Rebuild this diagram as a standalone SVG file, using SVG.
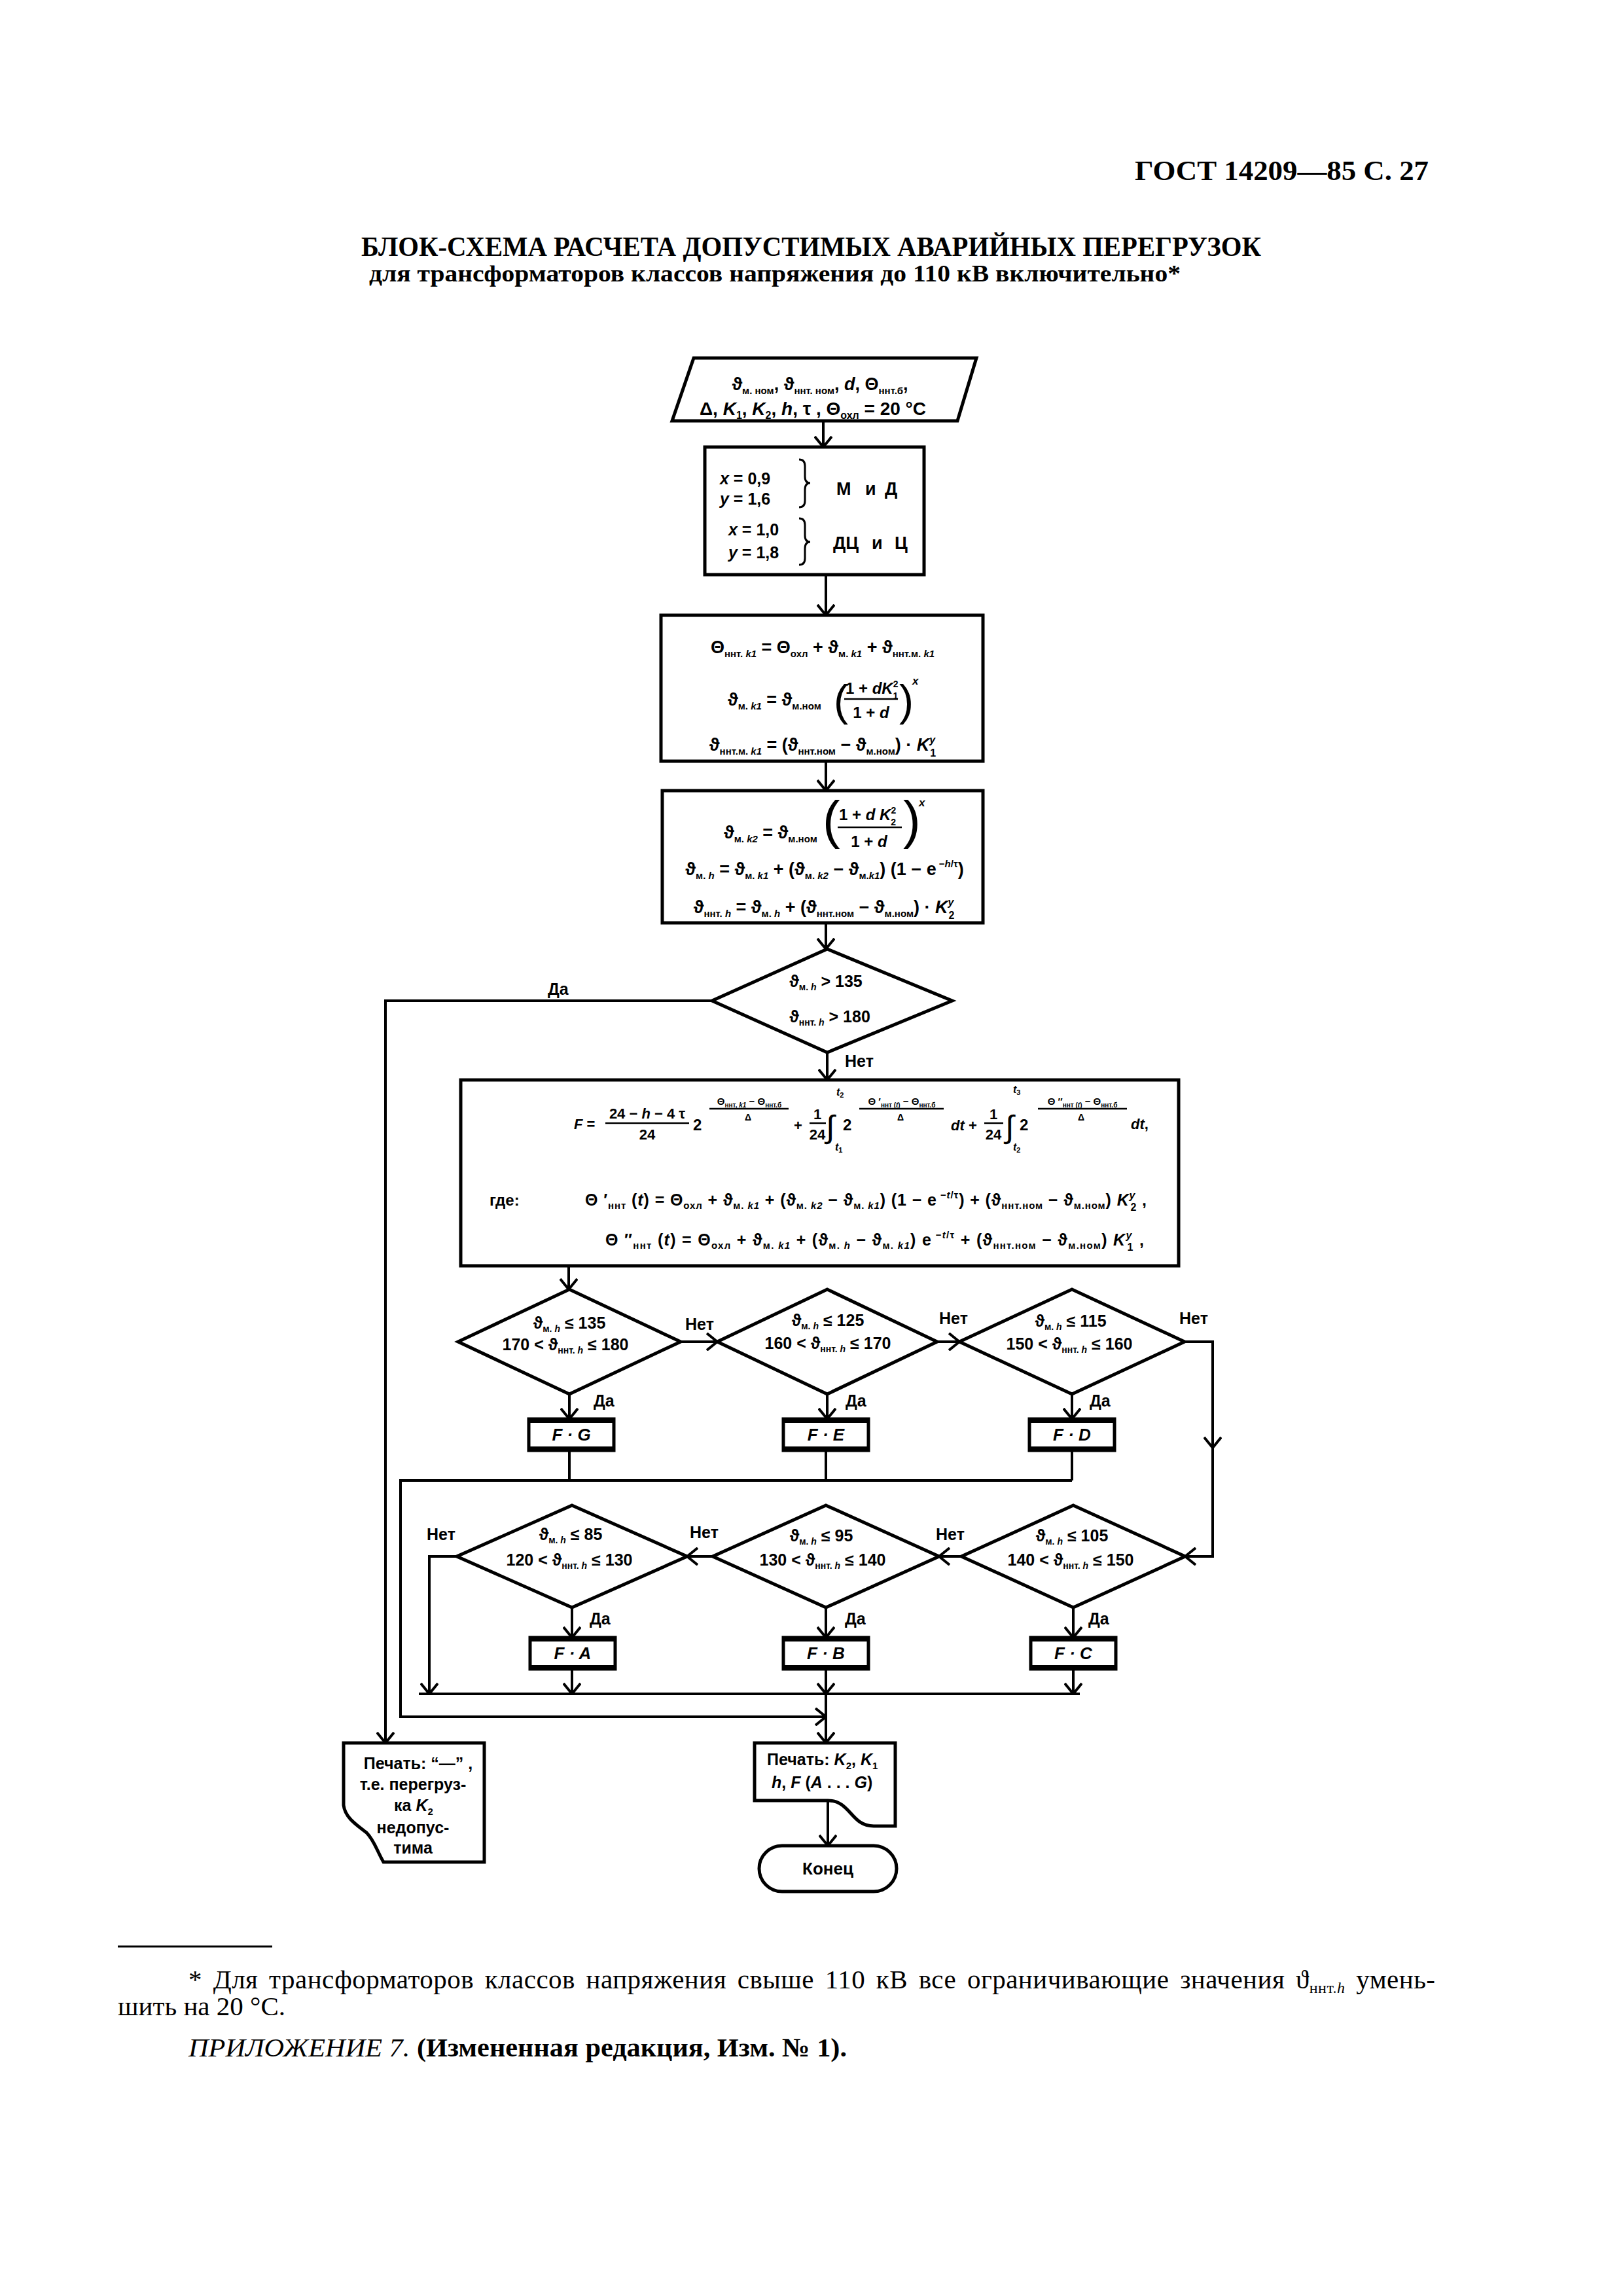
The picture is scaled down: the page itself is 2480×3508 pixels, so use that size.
<svg xmlns="http://www.w3.org/2000/svg" width="2480" height="3508" viewBox="0 0 2480 3508">
<style>
.t{font-family:"Liberation Sans","DejaVu Sans",Arial,sans-serif;font-weight:bold;fill:#000}
.n{font-weight:normal}
.i{font-style:italic}
.sr{font-family:"Liberation Serif","DejaVu Serif","Times New Roman",serif;fill:#000}
.ln{fill:none;stroke:#000;stroke-width:4}
.sh{fill:none;stroke:#000;stroke-width:5}
.fl{stroke:#000;stroke-width:2.5}
.tk{stroke:#000;stroke-width:8}
.br{fill:none;stroke:#000;stroke-width:3}
</style>
<defs>
<marker id="a" viewBox="0 0 18 28" refX="17" refY="14" markerWidth="18" markerHeight="28" markerUnits="userSpaceOnUse" orient="auto">
<path d="M1,1 L17,14 L1,27" fill="none" stroke="#000" stroke-width="4"/>
</marker>
</defs>
<rect width="2480" height="3508" fill="#fff"/>

<g id="header">
<text class="sr" x="1734" y="275" font-size="42" font-weight="bold" textLength="449" lengthAdjust="spacingAndGlyphs">ГОСТ 14209—85 С. 27</text>
<text class="sr" x="552" y="391" font-size="42" font-weight="bold" textLength="1375" lengthAdjust="spacingAndGlyphs">БЛОК-СХЕМА РАСЧЕТА ДОПУСТИМЫХ АВАРИЙНЫХ ПЕРЕГРУЗОК</text>
<text class="sr" x="564" y="430" font-size="36" font-weight="bold" textLength="1240" lengthAdjust="spacingAndGlyphs">для трансформаторов классов напряжения до 110 кВ включительно*</text>
</g>

<g id="connectors">
<path class="ln" d="M1258,643 V683" marker-end="url(#a)"/>
<path class="ln" d="M1262,878 V940" marker-end="url(#a)"/>
<path class="ln" d="M1262,1163 V1208" marker-end="url(#a)"/>
<path class="ln" d="M1262,1410 V1450" marker-end="url(#a)"/>
<path class="ln" d="M1088,1529 H589 V2663" marker-end="url(#a)"/>
<path class="ln" d="M1264,1608 V1650" marker-end="url(#a)"/>
<path class="ln" d="M869,1934 V1970" marker-end="url(#a)"/>
<path class="ln" d="M1040,2050 H1096" marker-end="url(#a)"/>
<path class="ln" d="M1432,2050 H1466" marker-end="url(#a)"/>
<path class="ln" d="M1810,2050 H1853 V2212" marker-end="url(#a)"/>
<path class="ln" d="M1853,2208 V2378 H1811" marker-end="url(#a)"/>
<path class="ln" d="M870,2130 V2168" marker-end="url(#a)"/>
<path class="ln" d="M1264,2130 V2168" marker-end="url(#a)"/>
<path class="ln" d="M1638,2130 V2168" marker-end="url(#a)"/>
<path class="ln" d="M870,2216 V2262"/>
<path class="ln" d="M1262,2216 V2262"/>
<path class="ln" d="M1638,2216 V2262"/>
<path class="ln" d="M1638,2262 H612 V2623 H1262" marker-end="url(#a)"/>
<path class="ln" d="M1469,2378 H1435" marker-end="url(#a)"/>
<path class="ln" d="M1089,2378 H1050" marker-end="url(#a)"/>
<path class="ln" d="M698,2378 H656 V2588" marker-end="url(#a)"/>
<path class="ln" d="M874,2456 V2502" marker-end="url(#a)"/>
<path class="ln" d="M1262,2456 V2502" marker-end="url(#a)"/>
<path class="ln" d="M1640,2456 V2502" marker-end="url(#a)"/>
<path class="ln" d="M874,2550 V2588" marker-end="url(#a)"/>
<path class="ln" d="M1262,2550 V2588" marker-end="url(#a)"/>
<path class="ln" d="M1640,2550 V2588" marker-end="url(#a)"/>
<path class="ln" d="M640,2588 H1650"/>
<path class="ln" d="M1262,2588 V2663" marker-end="url(#a)"/>
<path class="ln" d="M1265,2751 V2820" marker-end="url(#a)"/>
<g class="t" font-size="25">
<text x="837" y="1520">Да</text>
<text x="1291" y="1630">Нет</text>
<text x="1047" y="2032">Нет</text>
<text x="1435" y="2023">Нет</text>
<text x="1802" y="2023">Нет</text>
<text x="907" y="2149">Да</text>
<text x="1292" y="2149">Да</text>
<text x="1665" y="2149">Да</text>
<text x="1430" y="2353">Нет</text>
<text x="1054" y="2350">Нет</text>
<text x="652" y="2353">Нет</text>
<text x="901" y="2482">Да</text>
<text x="1291" y="2482">Да</text>
<text x="1663" y="2482">Да</text>
</g>
</g>

<g id="input">
<polygon class="sh" points="1060,547 1492,547 1463,643 1027,643"/>
<text class="t" x="1253" y="596" text-anchor="middle" font-size="27">ϑ<tspan font-size="15" dy="6">м. ном</tspan><tspan dy="-6">, ϑ</tspan><tspan font-size="15" dy="6">ннт. ном</tspan><tspan dy="-6">, </tspan><tspan class="i">d</tspan><tspan>, Θ</tspan><tspan font-size="15" dy="6">ннт.б</tspan><tspan dy="-6">,</tspan></text>
<text class="t" x="1242" y="634" text-anchor="middle" font-size="28">Δ, <tspan class="i">K</tspan><tspan font-size="16" dy="6">1</tspan><tspan dy="-6">, </tspan><tspan class="i">K</tspan><tspan font-size="16" dy="6">2</tspan><tspan dy="-6">, </tspan><tspan class="i">h</tspan><tspan>, τ ,  Θ</tspan><tspan font-size="16" dy="6">охл</tspan><tspan dy="-6"> = 20 °C</tspan></text>
</g>

<g id="coef">
<rect class="sh" x="1077" y="683" width="335" height="195"/>
<text class="t" x="1100" y="740" font-size="25"><tspan class="i">x</tspan> = 0,9</text>
<text class="t" x="1100" y="771" font-size="25"><tspan class="i">y</tspan> = 1,6</text>
<path class="br" d="M1221,702 Q1230,702 1230,712 V728 Q1230,738 1238,738 Q1230,738 1230,748 V765 Q1230,775 1221,775"/>
<text class="t" y="756" font-size="27"><tspan x="1278">М</tspan><tspan x="1322">и</tspan><tspan x="1352">Д</tspan></text>
<text class="t" x="1113" y="818" font-size="25"><tspan class="i">x</tspan> = 1,0</text>
<text class="t" x="1113" y="853" font-size="25"><tspan class="i">y</tspan> = 1,8</text>
<path class="br" d="M1221,792 Q1230,792 1230,802 V818 Q1230,828 1238,828 Q1230,828 1230,838 V853 Q1230,863 1221,863"/>
<text class="t" y="839" font-size="27"><tspan x="1273">ДЦ</tspan><tspan x="1332">и</tspan><tspan x="1367">Ц</tspan></text>
</g>

<g id="calc1">
<rect class="sh" x="1010" y="940" width="492" height="223"/>
<text class="t" x="1257" y="998" text-anchor="middle" font-size="27">Θ<tspan font-size="15" dy="6">ннт. <tspan class="i">k1</tspan></tspan><tspan dy="-6"> = Θ</tspan><tspan font-size="15" dy="6">охл</tspan><tspan dy="-6"> + ϑ</tspan><tspan font-size="15" dy="6">м. <tspan class="i">k1</tspan></tspan><tspan dy="-6"> + ϑ</tspan><tspan font-size="15" dy="6">ннт.м. <tspan class="i">k1</tspan></tspan></text>
<text class="t" x="1112" y="1078" font-size="27">ϑ<tspan font-size="15" dy="6">м. <tspan class="i">k1</tspan></tspan><tspan dy="-6"> = ϑ</tspan><tspan font-size="15" dy="6">м.ном</tspan></text>
<text class="t n" x="1274" y="1093" font-size="66">(</text>
<text class="t" x="1292" y="1060" font-size="24">1 + <tspan class="i">dK</tspan><tspan font-size="14" dy="-10">2</tspan><tspan font-size="14" dx="-8" dy="18">1</tspan></text>
<line class="fl" x1="1290" y1="1068" x2="1372" y2="1068"/>
<text class="t" x="1331" y="1097" text-anchor="middle" font-size="24">1 + <tspan class="i">d</tspan></text>
<text class="t n" x="1374" y="1093" font-size="66">)</text>
<text class="t i" x="1394" y="1046" font-size="17">x</text>
<text class="t" x="1257" y="1147" text-anchor="middle" font-size="27">ϑ<tspan font-size="15" dy="6">ннт.м. <tspan class="i">k1</tspan></tspan><tspan dy="-6"> = (ϑ</tspan><tspan font-size="15" dy="6">ннт.ном</tspan><tspan dy="-6"> − ϑ</tspan><tspan font-size="15" dy="6">м.ном</tspan><tspan dy="-6">) · </tspan><tspan class="i">K</tspan><tspan font-size="16" class="i" dy="-11">y</tspan><tspan font-size="16" dx="-8" dy="20">1</tspan></text>
</g>

<g id="calc2">
<rect class="sh" x="1012" y="1208" width="490" height="202"/>
<text class="t" x="1106" y="1281" font-size="27">ϑ<tspan font-size="15" dy="6">м. <tspan class="i">k2</tspan></tspan><tspan dy="-6"> = ϑ</tspan><tspan font-size="15" dy="6">м.ном</tspan></text>
<text class="t n" x="1257" y="1280" font-size="80">(</text>
<text class="t" x="1282" y="1253" font-size="24">1 + <tspan class="i">d K</tspan><tspan font-size="14" dy="-10">2</tspan><tspan font-size="14" dx="-8" dy="18">2</tspan></text>
<line class="fl" x1="1280" y1="1264" x2="1378" y2="1264"/>
<text class="t" x="1328" y="1294" text-anchor="middle" font-size="24">1 + <tspan class="i">d</tspan></text>
<text class="t n" x="1380" y="1280" font-size="80">)</text>
<text class="t i" x="1404" y="1232" font-size="17">x</text>
<text class="t" x="1260" y="1337" text-anchor="middle" font-size="27">ϑ<tspan font-size="15" dy="6">м. <tspan class="i">h</tspan></tspan><tspan dy="-6"> = ϑ</tspan><tspan font-size="15" dy="6">м. <tspan class="i">k1</tspan></tspan><tspan dy="-6"> + (ϑ</tspan><tspan font-size="15" dy="6">м. <tspan class="i">k2</tspan></tspan><tspan dy="-6"> − ϑ</tspan><tspan font-size="15" dy="6">м.<tspan class="i">k1</tspan></tspan><tspan dy="-6">) (1 − e</tspan><tspan font-size="15" dy="-12"> −<tspan class="i">h</tspan>/τ</tspan><tspan dy="12">)</tspan></text>
<text class="t" x="1259" y="1395" text-anchor="middle" font-size="27">ϑ<tspan font-size="15" dy="6">ннт. <tspan class="i">h</tspan></tspan><tspan dy="-6"> = ϑ</tspan><tspan font-size="15" dy="6">м. <tspan class="i">h</tspan></tspan><tspan dy="-6"> + (ϑ</tspan><tspan font-size="15" dy="6">ннт.ном</tspan><tspan dy="-6"> − ϑ</tspan><tspan font-size="15" dy="6">м.ном</tspan><tspan dy="-6">) · </tspan><tspan class="i">K</tspan><tspan font-size="16" class="i" dy="-11">y</tspan><tspan font-size="16" dx="-8" dy="20">2</tspan></text>
</g>

<g id="check0">
<polygon class="sh" points="1264,1450 1455,1529 1264,1608 1088,1529"/>
<text class="t" x="1262" y="1508" text-anchor="middle" font-size="25">ϑ<tspan font-size="14" dy="5">м. <tspan class="i">h</tspan></tspan><tspan dy="-5"> &gt; 135</tspan></text>
<text class="t" x="1268" y="1562" text-anchor="middle" font-size="25">ϑ<tspan font-size="14" dy="5">ннт. <tspan class="i">h</tspan></tspan><tspan dy="-5"> &gt; 180</tspan></text>
</g>

<g id="calcF">
<rect class="sh" x="704" y="1650" width="1097" height="284"/>
<text class="t" x="877" y="1725" font-size="22"><tspan class="i">F</tspan> =</text>
<text class="t" x="989" y="1709" text-anchor="middle" font-size="22">24 − <tspan class="i">h</tspan> − 4 τ</text>
<line class="fl" x1="925" y1="1716" x2="1053" y2="1716"/>
<text class="t" x="989" y="1741" text-anchor="middle" font-size="22">24</text>
<text class="t" x="1059" y="1727" font-size="24">2</text>
<text class="t" x="1145" y="1688" text-anchor="middle" font-size="15">Θ<tspan font-size="10" dy="4">ннт, <tspan class="i">k1</tspan></tspan><tspan dy="-4"> − Θ</tspan><tspan font-size="10" dy="4">ннт.б</tspan></text>
<line class="fl" x1="1084" y1="1694" x2="1205" y2="1694"/>
<text class="t" x="1143" y="1712" text-anchor="middle" font-size="14">Δ</text>
<text class="t" x="1213" y="1727" font-size="22">+</text>
<text class="t" x="1249" y="1710" text-anchor="middle" font-size="22">1</text>
<line class="fl" x1="1237" y1="1716" x2="1262" y2="1716"/>
<text class="t" x="1249" y="1741" text-anchor="middle" font-size="22">24</text>
<text class="t n" x="1262" y="1738" font-size="48">∫</text>
<text class="t i" x="1278" y="1674" font-size="16">t<tspan font-size="11" dy="3" font-style="normal">2</tspan></text>
<text class="t i" x="1276" y="1758" font-size="16">t<tspan font-size="11" dy="3" font-style="normal">1</tspan></text>
<text class="t" x="1288" y="1727" font-size="24">2</text>
<text class="t" x="1378" y="1688" text-anchor="middle" font-size="15">Θ ′<tspan font-size="10" dy="4">ннт (<tspan class="i">t</tspan>)</tspan><tspan dy="-4"> − Θ</tspan><tspan font-size="10" dy="4">ннт.б</tspan></text>
<line class="fl" x1="1313" y1="1694" x2="1442" y2="1694"/>
<text class="t" x="1376" y="1712" text-anchor="middle" font-size="14">Δ</text>
<text class="t" x="1453" y="1727" font-size="22"><tspan class="i">dt</tspan> +</text>
<text class="t" x="1518" y="1710" text-anchor="middle" font-size="22">1</text>
<line class="fl" x1="1504" y1="1716" x2="1533" y2="1716"/>
<text class="t" x="1518" y="1741" text-anchor="middle" font-size="22">24</text>
<text class="t n" x="1536" y="1738" font-size="48">∫</text>
<text class="t i" x="1548" y="1670" font-size="16">t<tspan font-size="11" dy="3" font-style="normal">3</tspan></text>
<text class="t i" x="1548" y="1758" font-size="16">t<tspan font-size="11" dy="3" font-style="normal">2</tspan></text>
<text class="t" x="1558" y="1727" font-size="24">2</text>
<text class="t" x="1654" y="1688" text-anchor="middle" font-size="15">Θ ″<tspan font-size="10" dy="4">ннт (<tspan class="i">t</tspan>)</tspan><tspan dy="-4"> − Θ</tspan><tspan font-size="10" dy="4">ннт.б</tspan></text>
<line class="fl" x1="1586" y1="1694" x2="1722" y2="1694"/>
<text class="t" x="1652" y="1712" text-anchor="middle" font-size="14">Δ</text>
<text class="t" x="1728" y="1725" font-size="22"><tspan class="i">dt</tspan>,</text>
<text class="t" x="748" y="1842" font-size="24">где:</text>
<text class="t" x="894" y="1842" font-size="25" textLength="858" lengthAdjust="spacing">Θ ′<tspan font-size="15" dy="5">ннт</tspan><tspan dy="-5"> (<tspan class="i">t</tspan>) = Θ</tspan><tspan font-size="15" dy="5">охл</tspan><tspan dy="-5"> + ϑ</tspan><tspan font-size="15" dy="5">м. <tspan class="i">k1</tspan></tspan><tspan dy="-5"> + (ϑ</tspan><tspan font-size="15" dy="5">м. <tspan class="i">k2</tspan></tspan><tspan dy="-5"> − ϑ</tspan><tspan font-size="15" dy="5">м. <tspan class="i">k1</tspan></tspan><tspan dy="-5">) (1 − e</tspan><tspan font-size="15" dy="-11"> −<tspan class="i">t</tspan>/τ</tspan><tspan dy="11">) + (ϑ</tspan><tspan font-size="15" dy="5">ннт.ном</tspan><tspan dy="-5"> − ϑ</tspan><tspan font-size="15" dy="5">м.ном</tspan><tspan dy="-5">) </tspan><tspan class="i">K</tspan><tspan font-size="16" class="i" dy="-10">y</tspan><tspan font-size="16" dx="-8" dy="18">2</tspan><tspan dy="-8"> ,</tspan></text>
<text class="t" x="925" y="1903" font-size="25" textLength="823" lengthAdjust="spacing">Θ ″<tspan font-size="15" dy="5">ннт</tspan><tspan dy="-5"> (<tspan class="i">t</tspan>) = Θ</tspan><tspan font-size="15" dy="5">охл</tspan><tspan dy="-5"> + ϑ</tspan><tspan font-size="15" dy="5">м. <tspan class="i">k1</tspan></tspan><tspan dy="-5"> + (ϑ</tspan><tspan font-size="15" dy="5">м. <tspan class="i">h</tspan></tspan><tspan dy="-5"> − ϑ</tspan><tspan font-size="15" dy="5">м. <tspan class="i">k1</tspan></tspan><tspan dy="-5">) e</tspan><tspan font-size="15" dy="-11"> −<tspan class="i">t</tspan>/τ</tspan><tspan dy="11"> + (ϑ</tspan><tspan font-size="15" dy="5">ннт.ном</tspan><tspan dy="-5"> − ϑ</tspan><tspan font-size="15" dy="5">м.ном</tspan><tspan dy="-5">) </tspan><tspan class="i">K</tspan><tspan font-size="16" class="i" dy="-10">y</tspan><tspan font-size="16" dx="-8" dy="18">1</tspan><tspan dy="-8"> ,</tspan></text>
</g>

<g id="checkG">
<polygon class="sh" points="870,1970 1040,2050 870,2130 700,2050"/>
<text class="t" x="870" y="2030" text-anchor="middle" font-size="25">ϑ<tspan font-size="14" dy="5">м. <tspan class="i">h</tspan></tspan><tspan dy="-5"> ≤ 135</tspan></text>
<text class="t" x="864" y="2063" text-anchor="middle" font-size="25">170 &lt; ϑ<tspan font-size="14" dy="5">ннт. <tspan class="i">h</tspan></tspan><tspan dy="-5"> ≤ 180</tspan></text>
</g>
<g id="checkE">
<polygon class="sh" points="1264,1970 1432,2050 1264,2130 1096,2050"/>
<text class="t" x="1265" y="2026" text-anchor="middle" font-size="25">ϑ<tspan font-size="14" dy="5">м. <tspan class="i">h</tspan></tspan><tspan dy="-5"> ≤ 125</tspan></text>
<text class="t" x="1265" y="2061" text-anchor="middle" font-size="25">160 &lt; ϑ<tspan font-size="14" dy="5">ннт. <tspan class="i">h</tspan></tspan><tspan dy="-5"> ≤ 170</tspan></text>
</g>
<g id="checkD">
<polygon class="sh" points="1638,1970 1810,2050 1638,2130 1466,2050"/>
<text class="t" x="1636" y="2027" text-anchor="middle" font-size="25">ϑ<tspan font-size="14" dy="5">м. <tspan class="i">h</tspan></tspan><tspan dy="-5"> ≤ 115</tspan></text>
<text class="t" x="1634" y="2062" text-anchor="middle" font-size="25">150 &lt; ϑ<tspan font-size="14" dy="5">ннт. <tspan class="i">h</tspan></tspan><tspan dy="-5"> ≤ 160</tspan></text>
</g>

<g id="boxG">
<rect class="sh" x="808" y="2168" width="130" height="48"/>
<line class="tk" x1="806" y1="2170" x2="940" y2="2170"/><line class="tk" x1="806" y1="2214" x2="940" y2="2214"/>
<text class="t i" x="873" y="2201" text-anchor="middle" font-size="26">F · G</text>
</g>
<g id="boxE">
<rect class="sh" x="1197" y="2168" width="130" height="48"/>
<line class="tk" x1="1195" y1="2170" x2="1329" y2="2170"/><line class="tk" x1="1195" y1="2214" x2="1329" y2="2214"/>
<text class="t i" x="1262" y="2201" text-anchor="middle" font-size="26">F · E</text>
</g>
<g id="boxD">
<rect class="sh" x="1573" y="2168" width="130" height="48"/>
<line class="tk" x1="1571" y1="2170" x2="1705" y2="2170"/><line class="tk" x1="1571" y1="2214" x2="1705" y2="2214"/>
<text class="t i" x="1638" y="2201" text-anchor="middle" font-size="26">F · D</text>
</g>

<g id="checkA">
<polygon class="sh" points="874,2300 1050,2378 874,2456 698,2378"/>
<text class="t" x="872" y="2353" text-anchor="middle" font-size="25">ϑ<tspan font-size="14" dy="5">м. <tspan class="i">h</tspan></tspan><tspan dy="-5"> ≤ 85</tspan></text>
<text class="t" x="870" y="2392" text-anchor="middle" font-size="25">120 &lt; ϑ<tspan font-size="14" dy="5">ннт. <tspan class="i">h</tspan></tspan><tspan dy="-5"> ≤ 130</tspan></text>
</g>
<g id="checkB">
<polygon class="sh" points="1262,2300 1435,2378 1262,2456 1089,2378"/>
<text class="t" x="1255" y="2355" text-anchor="middle" font-size="25">ϑ<tspan font-size="14" dy="5">м. <tspan class="i">h</tspan></tspan><tspan dy="-5"> ≤ 95</tspan></text>
<text class="t" x="1257" y="2392" text-anchor="middle" font-size="25">130 &lt; ϑ<tspan font-size="14" dy="5">ннт. <tspan class="i">h</tspan></tspan><tspan dy="-5"> ≤ 140</tspan></text>
</g>
<g id="checkC">
<polygon class="sh" points="1640,2300 1811,2378 1640,2456 1469,2378"/>
<text class="t" x="1638" y="2355" text-anchor="middle" font-size="25">ϑ<tspan font-size="14" dy="5">м. <tspan class="i">h</tspan></tspan><tspan dy="-5"> ≤ 105</tspan></text>
<text class="t" x="1636" y="2392" text-anchor="middle" font-size="25">140 &lt; ϑ<tspan font-size="14" dy="5">ннт. <tspan class="i">h</tspan></tspan><tspan dy="-5"> ≤ 150</tspan></text>
</g>

<g id="boxA">
<rect class="sh" x="810" y="2502" width="130" height="48"/>
<line class="tk" x1="808" y1="2504" x2="942" y2="2504"/><line class="tk" x1="808" y1="2548" x2="942" y2="2548"/>
<text class="t i" x="875" y="2535" text-anchor="middle" font-size="26">F · A</text>
</g>
<g id="boxB">
<rect class="sh" x="1197" y="2502" width="130" height="48"/>
<line class="tk" x1="1195" y1="2504" x2="1329" y2="2504"/><line class="tk" x1="1195" y1="2548" x2="1329" y2="2548"/>
<text class="t i" x="1262" y="2535" text-anchor="middle" font-size="26">F · B</text>
</g>
<g id="boxC">
<rect class="sh" x="1575" y="2502" width="130" height="48"/>
<line class="tk" x1="1573" y1="2504" x2="1707" y2="2504"/><line class="tk" x1="1573" y1="2548" x2="1707" y2="2548"/>
<text class="t i" x="1640" y="2535" text-anchor="middle" font-size="26">F · C</text>
</g>

<g id="printFail">
<path class="sh" d="M525,2663 H740 V2845 H586 C576,2828 572,2812 560,2800 C540,2785 527,2775 525,2758 Z"/>
<g class="t" font-size="25" text-anchor="middle">
<text x="639" y="2703">Печать: “—” ,</text>
<text x="631" y="2735">т.е. перегруз-</text>
<text x="632" y="2767">ка <tspan class="i">K</tspan><tspan font-size="15" dy="6">2</tspan></text>
<text x="631" y="2801">недопус-</text>
<text x="631" y="2832">тима</text>
</g>
</g>

<g id="printOk">
<path class="sh" d="M1153,2663 H1368 V2790 H1335 C1300,2790 1300,2751 1265,2751 H1153 Z"/>
<text class="t" x="1172" y="2697" font-size="25">Печать: <tspan class="i">K</tspan><tspan font-size="15" dy="6">2</tspan><tspan dy="-6">, </tspan><tspan class="i">K</tspan><tspan font-size="15" dy="6">1</tspan></text>
<text class="t" x="1179" y="2732" font-size="25"><tspan class="i">h</tspan>, <tspan class="i">F</tspan> (<tspan class="i">A</tspan> . . . <tspan class="i">G</tspan>)</text>
</g>

<g id="end">
<rect class="sh" x="1160" y="2820" width="210" height="70" rx="35" ry="35"/>
<text class="t" x="1265" y="2864" text-anchor="middle" font-size="26">Конец</text>
</g>

<g id="footnote">
<line x1="180" y1="2974" x2="416" y2="2974" stroke="#000" stroke-width="3"/>
<text class="sr" x="288" y="3038" font-size="41" word-spacing="6" textLength="1905" lengthAdjust="spacing">* Для трансформаторов классов напряжения свыше 110 кВ все ограничивающие значения ϑ<tspan font-size="24" dy="7">ннт.<tspan font-style="italic">h</tspan></tspan><tspan dy="-7"> умень-</tspan></text>
<text class="sr" x="180" y="3079" font-size="41">шить на 20 °С.</text>
<text class="sr" x="288" y="3142" font-size="41" textLength="1006" lengthAdjust="spacingAndGlyphs"><tspan font-style="italic">ПРИЛОЖЕНИЕ 7.</tspan><tspan font-weight="bold">  (Измененная редакция, Изм. № 1).</tspan></text>
</g>
</svg>
